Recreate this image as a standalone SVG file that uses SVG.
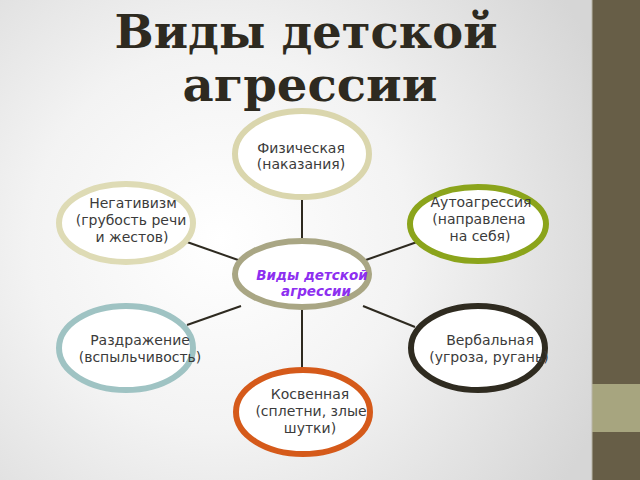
<svg xmlns="http://www.w3.org/2000/svg" width="640" height="480" viewBox="0 0 640 480">
<defs>
<radialGradient id="bg" cx="220" cy="240" r="420" gradientUnits="userSpaceOnUse">
<stop offset="0" stop-color="#ffffff"/>
<stop offset="0.45" stop-color="#f3f3f3"/>
<stop offset="1" stop-color="#d6d6d6"/>
</radialGradient>
<style>
.node ellipse{fill:#ffffff;stroke-width:6}
.lbl{font-family:"DejaVu Sans",sans-serif;font-size:14px;fill:#3b3b3b;text-anchor:middle}
.title{font-family:"DejaVu Serif",serif;font-weight:bold;font-size:46px;fill:#2e2a20;text-anchor:middle}
.center{font-family:"DejaVu Sans",sans-serif;font-weight:bold;font-style:italic;font-size:13.5px;fill:#8d2ff0;text-anchor:middle}
#connectors line{stroke:#2e2a20;stroke-width:2}
</style>
</defs>
<rect x="0" y="0" width="640" height="480" fill="url(#bg)"/>
<rect x="592" y="0" width="48" height="480" fill="#675e47"/>
<rect x="592" y="384" width="48" height="48" fill="#a7a57f"/>
<line x1="592" y1="0" x2="592" y2="480" stroke="#b9b6a8" stroke-width="1"/>

<text class="title" x="306" y="48" textLength="383" lengthAdjust="spacingAndGlyphs">Виды детской</text>
<text class="title" x="310" y="101" textLength="255" lengthAdjust="spacingAndGlyphs">агрессии</text>

<g id="connectors">
<line x1="302" y1="200" x2="302" y2="239"/>
<line x1="187" y1="242" x2="241" y2="261"/>
<line x1="363" y1="261" x2="417" y2="242"/>
<line x1="241" y1="306" x2="187" y2="325"/>
<line x1="363" y1="306" x2="415" y2="327"/>
<line x1="302" y1="309" x2="302" y2="368"/>
</g>

<g id="node-physical" class="node">
<ellipse cx="302" cy="154" rx="67" ry="43" stroke="#dad6ad"/>
<text class="lbl" x="301" y="153">Физическая</text>
<text class="lbl" x="301" y="169">(наказания)</text>
</g>

<g id="node-negativism" class="node">
<ellipse cx="126" cy="223" rx="67" ry="39" stroke="#dedbb5"/>
<text class="lbl" x="133" y="208">Негативизм</text>
<text class="lbl" x="131" y="225">(грубость речи</text>
<text class="lbl" x="132" y="242">и жестов)</text>
</g>

<g id="node-auto" class="node">
<ellipse cx="478" cy="224" rx="68" ry="37" stroke="#8ba41b"/>
<text class="lbl" x="481" y="207">Аутоагрессия</text>
<text class="lbl" x="479" y="224">(направлена</text>
<text class="lbl" x="480" y="241">на себя)</text>
</g>

<g id="node-center" class="node">
<ellipse cx="302" cy="274" rx="67" ry="33" stroke="#a9a684" stroke-width="7"/>
<text class="center" x="312" y="280">Виды детской</text>
<text class="center" x="316" y="296">агрессии</text>
</g>

<g id="node-irritation" class="node">
<ellipse cx="126" cy="348" rx="67" ry="42" stroke="#9fc3c3" stroke-width="7"/>
<text class="lbl" x="140" y="345">Раздражение</text>
<text class="lbl" x="140" y="362">(вспыльчивость)</text>
</g>

<g id="node-verbal" class="node">
<ellipse cx="478" cy="348" rx="67" ry="42" stroke="#2f2b20" stroke-width="7"/>
<text class="lbl" x="490" y="345">Вербальная</text>
<text class="lbl" x="489" y="362">(угроза, ругань)</text>
</g>

<g id="node-indirect" class="node">
<ellipse cx="303" cy="412" rx="67" ry="42" stroke="#d55a1a"/>
<text class="lbl" x="310" y="399">Косвенная</text>
<text class="lbl" x="311" y="416">(сплетни, злые</text>
<text class="lbl" x="310" y="433">шутки)</text>
</g>
</svg>
